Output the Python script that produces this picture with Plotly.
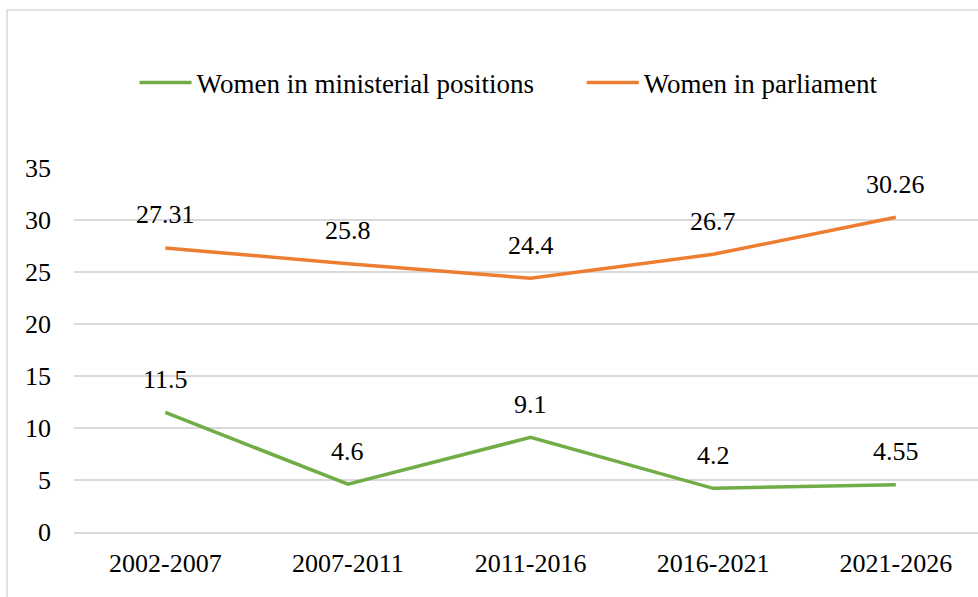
import plotly.graph_objects as go

periods = ["2002-2007", "2007-2011", "2011-2016", "2016-2021", "2021-2026"]
ministerial = [11.5, 4.6, 9.1, 4.2, 4.55]
parliament = [27.31, 25.8, 24.4, 26.7, 30.26]
ministerial_labels = ["11.5", "4.6", "9.1", "4.2", "4.55"]
parliament_labels = ["27.31", "25.8", "24.4", "26.7", "30.26"]
y_ticks = [0, 5, 10, 15, 20, 25, 30, 35]

FONT = "Liberation Serif"
GREEN = "#70ad47"
ORANGE = "#ed7d31"
GRID = "#d9d9d9"

fig = go.Figure()
fig.add_trace(go.Scatter(x=list(range(len(periods))), y=ministerial, mode="lines",
                         name="Women in ministerial positions", legend="legend",
                         line=dict(color=GREEN, width=3.5)))
fig.add_trace(go.Scatter(x=list(range(len(periods))), y=parliament, mode="lines",
                         name="Women in parliament", legend="legend2",
                         line=dict(color=ORANGE, width=3.5)))

for series, labels in ((ministerial, ministerial_labels), (parliament, parliament_labels)):
    for i, (v, t) in enumerate(zip(series, labels)):
        fig.add_annotation(x=i, y=v, xref="x", yref="y", text=t, showarrow=False,
                           yshift=33, font=dict(family=FONT, size=26, color="black"))

legend_common = dict(orientation="h", y=1.2335, xanchor="left", yanchor="middle",
                     font=dict(family=FONT, size=27, color="black"),
                     bgcolor="rgba(0,0,0,0)", itemwidth=52)

fig.update_layout(
    template="none",
    width=978, height=597,
    margin=dict(l=74, r=0, t=168, b=65),
    paper_bgcolor="white", plot_bgcolor="white",
    font=dict(family=FONT, size=26, color="black"),
    showlegend=True,
    legend=dict(x=0.067, **legend_common),
    legend2=dict(x=0.5617, **legend_common),
    xaxis=dict(range=[-0.5, 4.45], tickmode="array", tickvals=list(range(len(periods))),
               ticktext=periods, showgrid=False, zeroline=False, showline=True,
               linecolor=GRID, linewidth=1.5, ticks="", ticklabelstandoff=7,
               tickfont=dict(family=FONT, size=26, color="black")),
    yaxis=dict(range=[0, 35], tickmode="array", tickvals=y_ticks,
               ticktext=[str(v) for v in y_ticks], showgrid=True, gridcolor=GRID,
               gridwidth=1.5, zeroline=False, showline=False, ticks="",
               ticklabelstandoff=22,
               tickfont=dict(family=FONT, size=26, color="black")),
    shapes=[dict(type="rect", xref="paper", yref="paper", x0=-0.0741, x1=1.2,
                 y0=-0.3, y1=1.434, line=dict(color=GRID, width=1.5),
                 fillcolor="rgba(0,0,0,0)", layer="below")],
)

fig.write_html("out.html")
